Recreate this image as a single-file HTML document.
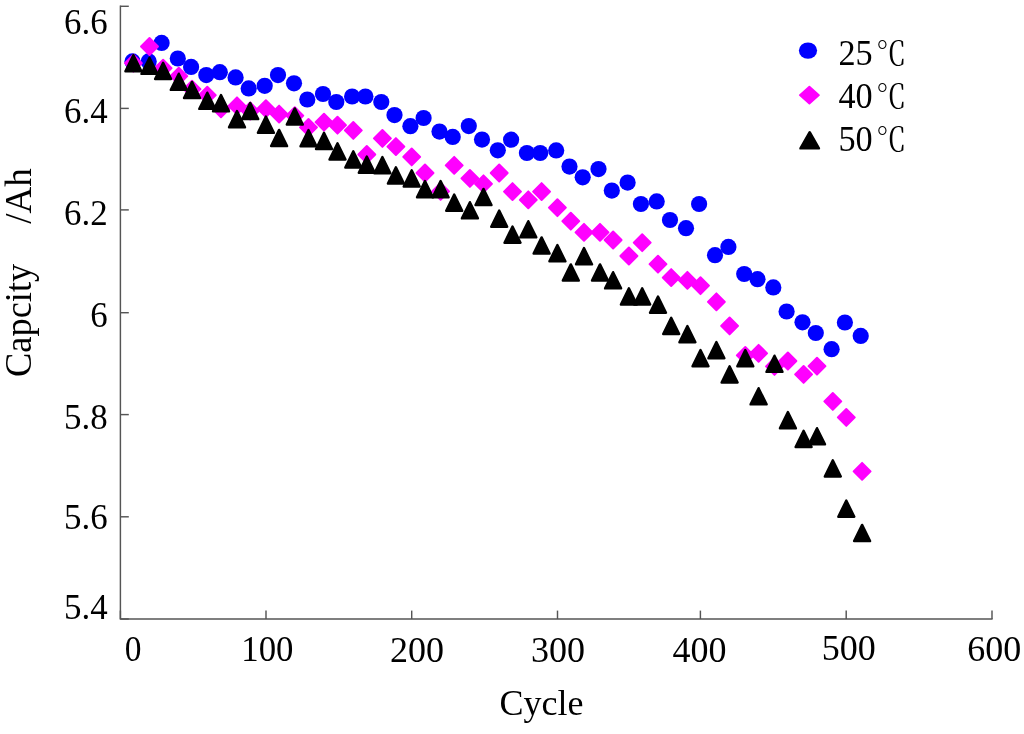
<!DOCTYPE html>
<html lang="en">
<head>
<meta charset="utf-8">
<title>Capacity vs Cycle</title>
<style>
html,body{margin:0;padding:0;background:#fff;}
body{width:1024px;height:734px;overflow:hidden;}
svg{display:block;}
svg{will-change:transform;}
text{font-family:"Liberation Serif","Noto Serif CJK SC",serif;fill:#000;}
.t{font-size:36px;}
.lg{font-size:36px;}
.ax{stroke:#555;stroke-width:1.45;fill:none;}
.b{fill:#0000ff;}
.m{fill:#ff00ff;stroke:#ff00ff;stroke-width:1.9;stroke-linejoin:round;}
.k{fill:#000;stroke:#000;stroke-width:2.4;stroke-linejoin:round;}
</style>
</head>
<body>
<svg width="1024" height="734" viewBox="0 0 1024 734">
<rect width="1024" height="734" fill="#fff"/>
<defs>
<polygon id="d" points="0,-8.5 8.5,0 0,8.5 -8.5,0"/>
<polygon id="tr" points="0,-8.1 8.0,8.1 -8.0,8.1"/>
</defs>
<g class="ax">
<path d="M120.4 5.5V619.0H992.6"/>
<path d="M120.4 6.3H128.8"/>
<path d="M120.4 108.4H128.8"/>
<path d="M120.4 209.9H128.8"/>
<path d="M120.4 312.7H128.8"/>
<path d="M120.4 414.6H128.8"/>
<path d="M120.4 516.8H128.8"/>
<path d="M120.4 619.0H128.8"/>
<path d="M120.4 619.0V610.6"/>
<path d="M266.0 619.0V610.6"/>
<path d="M411.7 619.0V610.6"/>
<path d="M557.5 619.0V610.6"/>
<path d="M700.4 619.0V610.6"/>
<path d="M846.2 619.0V610.6"/>
<path d="M992.0 619.0V610.6"/>
</g>
<g class="t" text-anchor="end">
<text transform="translate(107.6 33.5) scale(0.97 1)">6.6</text>
<text transform="translate(107.6 123.4) scale(0.97 1)">6.4</text>
<text transform="translate(107.6 225.0) scale(0.97 1)">6.2</text>
<text transform="translate(107.6 326.9) scale(0.97 1)">6</text>
<text transform="translate(107.6 429.3) scale(0.97 1)">5.8</text>
<text transform="translate(107.6 528.9) scale(0.97 1)">5.6</text>
<text transform="translate(107.6 618.8) scale(0.97 1)">5.4</text>
</g>
<g class="t" text-anchor="middle">
<text transform="translate(133.0 660.8) scale(0.93 1)">0</text>
<text transform="translate(267.4 661.0) scale(0.965 1)">100</text>
<text transform="translate(417.0 662.1) scale(1 1)">200</text>
<text transform="translate(558.0 662.2) scale(1 1)">300</text>
<text transform="translate(699.6 661.6) scale(1 1)">400</text>
<text transform="translate(848.8 660.4) scale(1 1)">500</text>
<text transform="translate(994.3 661.4) scale(1 1)">600</text>
</g>
<g class="t" text-anchor="middle">
<text x="541.5" y="714.8">Cycle</text>
</g>
<text class="t" transform="translate(30.9 376.9) rotate(-90) scale(1.01 1.06)">Capcity</text>
<text class="t" transform="translate(30.9 223.7) rotate(-90) scale(1.027 1.06)">/Ah</text>
<g class="b">
<circle cx="132.5" cy="61.4" r="8.1"/>
<circle cx="148.7" cy="61.4" r="8.1"/>
<circle cx="161.6" cy="42.9" r="8.1"/>
<circle cx="177.8" cy="58.5" r="8.1"/>
<circle cx="191.1" cy="66.9" r="8.1"/>
<circle cx="206.3" cy="75.1" r="8.1"/>
<circle cx="219.8" cy="72.2" r="8.1"/>
<circle cx="235.6" cy="77.4" r="8.1"/>
<circle cx="248.7" cy="88.4" r="8.1"/>
<circle cx="264.7" cy="85.8" r="8.1"/>
<circle cx="278.0" cy="75.1" r="8.1"/>
<circle cx="294.0" cy="83.3" r="8.1"/>
<circle cx="307.3" cy="99.5" r="8.1"/>
<circle cx="323.0" cy="94.0" r="8.1"/>
<circle cx="336.3" cy="102.0" r="8.1"/>
<circle cx="352.1" cy="96.5" r="8.1"/>
<circle cx="365.4" cy="96.5" r="8.1"/>
<circle cx="381.3" cy="102.0" r="8.1"/>
<circle cx="394.5" cy="115.1" r="8.1"/>
<circle cx="410.4" cy="126.2" r="8.1"/>
<circle cx="423.6" cy="118.0" r="8.1"/>
<circle cx="439.5" cy="131.6" r="8.1"/>
<circle cx="452.7" cy="136.9" r="8.1"/>
<circle cx="468.8" cy="126.1" r="8.1"/>
<circle cx="482.0" cy="139.6" r="8.1"/>
<circle cx="497.8" cy="150.3" r="8.1"/>
<circle cx="511.1" cy="139.7" r="8.1"/>
<circle cx="526.9" cy="153.0" r="8.1"/>
<circle cx="540.2" cy="153.0" r="8.1"/>
<circle cx="556.2" cy="150.4" r="8.1"/>
<circle cx="569.5" cy="166.6" r="8.1"/>
<circle cx="582.7" cy="177.3" r="8.1"/>
<circle cx="598.5" cy="169.1" r="8.1"/>
<circle cx="611.8" cy="190.6" r="8.1"/>
<circle cx="627.6" cy="182.6" r="8.1"/>
<circle cx="640.9" cy="204.0" r="8.1"/>
<circle cx="656.7" cy="201.4" r="8.1"/>
<circle cx="670.0" cy="220.0" r="8.1"/>
<circle cx="686.0" cy="228.2" r="8.1"/>
<circle cx="699.1" cy="204.0" r="8.1"/>
<circle cx="715.0" cy="255.2" r="8.1"/>
<circle cx="728.4" cy="246.9" r="8.1"/>
<circle cx="744.2" cy="274.0" r="8.1"/>
<circle cx="757.5" cy="279.2" r="8.1"/>
<circle cx="773.3" cy="287.4" r="8.1"/>
<circle cx="786.6" cy="311.5" r="8.1"/>
<circle cx="802.5" cy="322.3" r="8.1"/>
<circle cx="815.8" cy="333.0" r="8.1"/>
<circle cx="831.6" cy="349.2" r="8.1"/>
<circle cx="844.9" cy="322.5" r="8.1"/>
<circle cx="860.7" cy="335.9" r="8.1"/>
</g>
<g class="m">
<use href="#d" x="133.4" y="63.2"/>
<use href="#d" x="149.5" y="46.5"/>
<use href="#d" x="163.1" y="68.2"/>
<use href="#d" x="178.8" y="76.2"/>
<use href="#d" x="192.0" y="89.2"/>
<use href="#d" x="207.3" y="95.2"/>
<use href="#d" x="221.0" y="108.8"/>
<use href="#d" x="237.0" y="105.8"/>
<use href="#d" x="250.2" y="111.0"/>
<use href="#d" x="265.9" y="108.7"/>
<use href="#d" x="279.1" y="114.1"/>
<use href="#d" x="294.8" y="115.7"/>
<use href="#d" x="308.5" y="127.4"/>
<use href="#d" x="324.0" y="122.2"/>
<use href="#d" x="337.5" y="125.2"/>
<use href="#d" x="353.3" y="130.4"/>
<use href="#d" x="366.8" y="154.5"/>
<use href="#d" x="382.4" y="138.4"/>
<use href="#d" x="395.9" y="146.6"/>
<use href="#d" x="411.7" y="156.9"/>
<use href="#d" x="425.0" y="173.0"/>
<use href="#d" x="440.6" y="191.3"/>
<use href="#d" x="454.2" y="165.3"/>
<use href="#d" x="469.9" y="178.4"/>
<use href="#d" x="483.5" y="183.8"/>
<use href="#d" x="499.2" y="173.0"/>
<use href="#d" x="512.5" y="191.6"/>
<use href="#d" x="528.3" y="199.8"/>
<use href="#d" x="541.6" y="191.6"/>
<use href="#d" x="557.4" y="207.7"/>
<use href="#d" x="570.8" y="221.2"/>
<use href="#d" x="584.0" y="232.3"/>
<use href="#d" x="600.0" y="232.3"/>
<use href="#d" x="613.1" y="240.0"/>
<use href="#d" x="628.9" y="256.0"/>
<use href="#d" x="642.2" y="242.7"/>
<use href="#d" x="658.0" y="264.2"/>
<use href="#d" x="671.2" y="277.6"/>
<use href="#d" x="687.4" y="280.3"/>
<use href="#d" x="700.5" y="285.7"/>
<use href="#d" x="716.4" y="301.8"/>
<use href="#d" x="729.6" y="325.9"/>
<use href="#d" x="745.3" y="355.4"/>
<use href="#d" x="758.6" y="353.3"/>
<use href="#d" x="774.5" y="366.4"/>
<use href="#d" x="787.9" y="361.0"/>
<use href="#d" x="803.6" y="374.4"/>
<use href="#d" x="817.0" y="366.2"/>
<use href="#d" x="832.8" y="401.4"/>
<use href="#d" x="846.3" y="417.4"/>
<use href="#d" x="862.1" y="471.3"/>
</g>
<g class="k">
<use href="#tr" x="133.4" y="63.1"/>
<use href="#tr" x="149.5" y="65.8"/>
<use href="#tr" x="163.1" y="70.9"/>
<use href="#tr" x="178.8" y="81.8"/>
<use href="#tr" x="192.0" y="90.0"/>
<use href="#tr" x="207.3" y="100.8"/>
<use href="#tr" x="221.0" y="103.2"/>
<use href="#tr" x="237.0" y="119.2"/>
<use href="#tr" x="250.2" y="111.0"/>
<use href="#tr" x="265.9" y="124.7"/>
<use href="#tr" x="279.1" y="138.0"/>
<use href="#tr" x="294.8" y="116.5"/>
<use href="#tr" x="308.5" y="138.2"/>
<use href="#tr" x="324.0" y="140.9"/>
<use href="#tr" x="337.5" y="151.4"/>
<use href="#tr" x="353.3" y="159.4"/>
<use href="#tr" x="366.8" y="164.7"/>
<use href="#tr" x="382.4" y="165.1"/>
<use href="#tr" x="395.9" y="175.4"/>
<use href="#tr" x="411.7" y="178.4"/>
<use href="#tr" x="425.0" y="189.2"/>
<use href="#tr" x="440.6" y="189.2"/>
<use href="#tr" x="454.2" y="202.7"/>
<use href="#tr" x="469.9" y="210.3"/>
<use href="#tr" x="483.5" y="197.0"/>
<use href="#tr" x="499.2" y="218.6"/>
<use href="#tr" x="512.5" y="234.6"/>
<use href="#tr" x="528.3" y="229.3"/>
<use href="#tr" x="541.6" y="245.5"/>
<use href="#tr" x="557.4" y="253.2"/>
<use href="#tr" x="570.8" y="272.5"/>
<use href="#tr" x="584.0" y="256.2"/>
<use href="#tr" x="600.0" y="272.5"/>
<use href="#tr" x="613.1" y="280.3"/>
<use href="#tr" x="628.9" y="296.4"/>
<use href="#tr" x="642.2" y="296.4"/>
<use href="#tr" x="658.0" y="304.6"/>
<use href="#tr" x="671.2" y="325.9"/>
<use href="#tr" x="687.4" y="334.1"/>
<use href="#tr" x="700.5" y="358.1"/>
<use href="#tr" x="716.4" y="350.1"/>
<use href="#tr" x="729.6" y="374.4"/>
<use href="#tr" x="745.3" y="358.2"/>
<use href="#tr" x="758.6" y="396.3"/>
<use href="#tr" x="774.5" y="363.8"/>
<use href="#tr" x="787.9" y="420.2"/>
<use href="#tr" x="803.6" y="438.9"/>
<use href="#tr" x="817.0" y="436.3"/>
<use href="#tr" x="832.8" y="468.4"/>
<use href="#tr" x="846.3" y="508.6"/>
<use href="#tr" x="862.1" y="533.0"/>
</g>
<ellipse class="b" cx="808" cy="50.6" rx="9.1" ry="8.2"/>
<polygon class="m" points="809.4,86.75 818.9,95.1 809.4,103.45 799.9,95.1"/>
<polygon class="k" points="809.7,132.2 818.95,148.4 800.45,148.4"/>
<g class="lg">
<text transform="translate(838.4 64.8) scale(0.95 1)">25<tspan font-size="32" dx="3.7">℃</tspan></text>
<text transform="translate(838.4 108.1) scale(0.95 1)">40<tspan font-size="32" dx="3.7">℃</tspan></text>
<text transform="translate(838.4 150.9) scale(0.95 1)">50<tspan font-size="32" dx="3.7">℃</tspan></text>
</g>
</svg>
</body>
</html>
